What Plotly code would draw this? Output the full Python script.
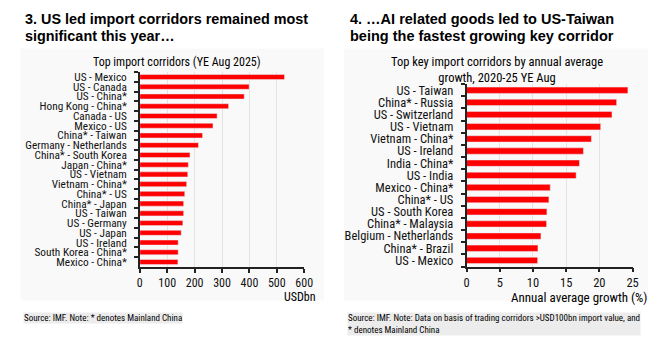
import plotly.graph_objects as go

# ---- Data ----
left_categories = ["US - Mexico", "US - Canada", "US - China*", "Hong Kong - China*", "Canada - US",
                   "Mexico - US", "China* - Taiwan", "Germany - Netherlands", "China* - South Korea",
                   "Japan - China*", "US - Vietnam", "Vietnam - China*", "China* - US", "China* - Japan",
                   "US - Taiwan", "US - Germany", "US - Japan", "US - Ireland", "South Korea - China*",
                   "Mexico - China*"]
left_values = [528, 399, 381, 324, 282, 267, 229, 214, 183, 177, 175, 171, 164, 160, 160, 157, 151, 140, 140, 139]
left_ticks = [0, 100, 200, 300, 400, 500, 600]

right_categories = ["US - Taiwan", "China* - Russia", "US - Switzerland", "US - Vietnam", "Vietnam - China*",
                    "US - Ireland", "India - China*", "US - India", "Mexico - China*", "China* - US",
                    "US - South Korea", "China* - Malaysia", "Belgium - Netherlands", "China* - Brazil",
                    "US - Mexico"]
right_values = [24.3, 22.6, 21.9, 20.2, 18.8, 17.6, 17.0, 16.5, 12.6, 12.4, 12.1, 12.05, 11.2, 10.75, 10.7]
right_ticks = [0, 5, 10, 15, 20, 25]

W, H = 672, 350
NARROW = "Liberation Sans Narrow, Arial Narrow, Roboto Condensed, Liberation Sans, Arial, sans-serif"
BOLD = "Liberation Sans, Arial, sans-serif"
RED = "#ff0000"

def px(x):
    return x / W

def py(y):
    return 1 - y / H

fig = go.Figure()
fig.add_trace(go.Bar(x=left_values, y=left_categories, orientation="h", marker_color=RED,
                     xaxis="x", yaxis="y", showlegend=False, hoverinfo="x+y"))
fig.add_trace(go.Bar(x=right_values, y=right_categories, orientation="h", marker_color=RED,
                     xaxis="x2", yaxis="y2", showlegend=False, hoverinfo="x+y"))

def axis_common(size):
    return dict(showline=True, linecolor="#222", linewidth=1.5, ticks="outside", ticklen=4,
                tickcolor="#222", tickwidth=1.5, tickfont=dict(family=NARROW, size=size, color="#111"))

fig.update_layout(
    width=W, height=H, margin=dict(l=0, r=0, t=0, b=0),
    paper_bgcolor="white", plot_bgcolor="rgba(0,0,0,0)",
    bargap=0.48,
    xaxis=dict(domain=[px(139.3), px(306.7)], range=[0, 600], tickvals=left_ticks,
               showgrid=True, gridcolor="#e3e3e3", gridwidth=1, zeroline=False, anchor="y",
               **axis_common(12)),
    yaxis=dict(domain=[py(268.2), py(71.8)], autorange="reversed", type="category",
               tickmode="array", tickvals=left_categories,
               tickson="boundaries", showgrid=False, anchor="x", ticklabelstandoff=9,
               **axis_common(11.3)),
    xaxis2=dict(domain=[px(472), px(641)], range=[0, 25], tickvals=right_ticks,
                showgrid=True, gridcolor="#e3e3e3", gridwidth=1, zeroline=False, anchor="y2",
                **axis_common(12.5)),
    yaxis2=dict(domain=[py(267.8), py(83.9)], autorange="reversed", type="category",
                tickmode="array", tickvals=right_categories,
                tickson="boundaries", showgrid=False, anchor="x2", ticklabelstandoff=9,
                **axis_common(12.5)),
)

# light panels behind charts
for x0, x1 in [(18, 327), (347, 657)]:
    fig.add_shape(type="rect", xref="paper", yref="paper", x0=px(x0), x1=px(x1), y0=py(302), y1=py(48),
                  fillcolor="#f9f9f9", line_width=0, layer="below")

ann = []
def A(text, x, y, size, family=NARROW, xanchor="left", yanchor="middle", bold=False, bg=None, align="left"):
    d = dict(text=(f"<b>{text}</b>" if bold else text), x=px(x), y=py(y), xref="paper", yref="paper",
             xanchor=xanchor, yanchor=yanchor, showarrow=False, align=align,
             font=dict(family=family, size=size, color="#000"))
    if bg:
        d["bgcolor"] = bg
        d["borderpad"] = 0
    ann.append(d)

A("3. US led import corridors remained most", 20, 18, 14.4, family=BOLD, bold=True)
A("significant this year…", 20, 35, 14.4, family=BOLD, bold=True)
A("4. …AI related goods led to US-Taiwan", 351, 18, 14.5, family=BOLD, bold=True)
A("being the fastest growing key corridor", 351, 35, 14.5, family=BOLD, bold=True)
A("Top import corridors (YE Aug 2025)", 176.7, 61.7, 12, xanchor="center")
A("Top key import corridors by annual average<br>growth, 2020-25 YE Aug", 503, 69, 12.5,
  xanchor="center", align="center")
A("USDbn", 321, 299, 12, xanchor="right")
A("Annual average growth (%)", 586, 299, 13, xanchor="center")
A("Source: IMF. Note: * denotes Mainland China", 20, 320, 9, bg="#ececec")
A("Source: IMF. Note: Data on basis of trading corridors >USD100bn import value, and<br>* denotes Mainland China",
  350, 326, 9, bg="#ececec")

fig.update_layout(annotations=ann)
fig.write_html("out.html")
